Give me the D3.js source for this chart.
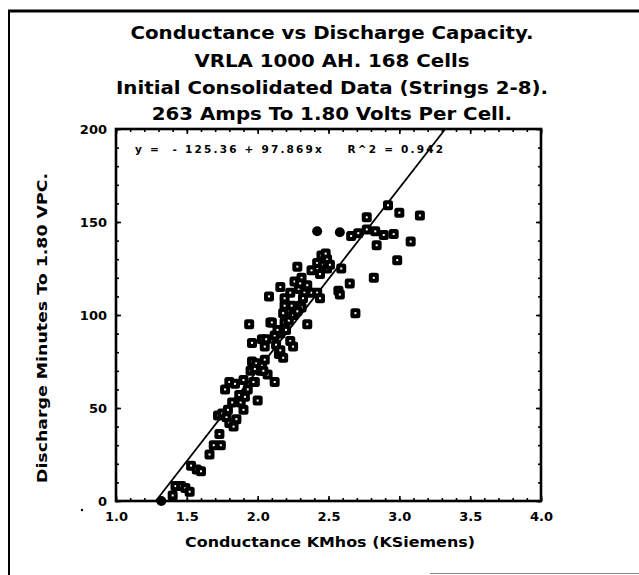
<!DOCTYPE html>
<html><head><meta charset="utf-8">
<script src="https://cdn.jsdelivr.net/npm/d3@7"></script>
<style>
body{margin:0;background:#fff}
svg{display:block}
text{font-family:"DejaVu Sans",Verdana,sans-serif;font-weight:bold;fill:#000}
</style>
</head><body>
<svg id="c" width="639" height="575"></svg>
<script>
// ---------- data ----------
const titleLines = [
  "Conductance vs Discharge Capacity.",
  "VRLA 1000 AH. 168 Cells",
  "Initial Consolidated Data (Strings 2-8).",
  "263 Amps To 1.80 Volts Per Cell."
];
const xAxisTitle = "Conductance KMhos (KSiemens)";
const yAxisTitle = "Discharge Minutes To 1.80 VPC.";
const equationText = "y =  - 125.36 + 97.869x    R^2 = 0.942";
const xTickValues = [1.0, 1.5, 2.0, 2.5, 3.0, 3.5, 4.0];
const yTickValues = [0, 50, 100, 150, 200];
const fitIntercept = -125.36;
const fitSlope = 97.869;

const conductance = [
 1.32,1.40,1.42,1.46,1.49,1.52,1.53,1.57,1.60,1.66,1.69,1.74,1.73,1.72,1.75,1.78,1.79,1.80,1.83,1.85,
 1.77,1.80,1.84,1.87,1.88,1.90,1.82,1.90,1.93,1.91,2.00,1.95,1.96,1.98,1.99,2.02,2.03,2.05,2.07,2.12,
 2.04,1.98,1.96,1.94,2.03,2.05,2.09,2.10,2.13,2.15,2.18,2.16,2.12,2.19,2.23,2.25,2.22,2.25,2.18,2.19,
 2.24,2.30,2.16,2.08,2.19,2.23,2.26,2.28,2.31,2.29,2.33,2.35,2.32,2.38,2.31,2.35,2.28,2.30,2.38,2.42,
 2.45,2.46,2.49,2.49,2.44,2.42,2.44,2.51,2.48,2.59,2.57,2.58,2.65,2.69,2.82,2.42,2.58,2.66,2.71,2.77,
 2.77,2.83,2.89,2.84,2.92,2.96,3.00,2.985,3.08,3.145,1.97,2.16,2.20,2.14,2.06
];
const minutes = [
 0,3,8,8,7,5,19,17,16,25,30,30,36,46,47,45,49,42,40,44,
 60,64,63,57,53,49,53,65,60,56,54,70,75,64,74,70,73,76,68,64,
 70,71,85,95,87,83,96,96,84,79,77,90,89,96,86,83,97,100,101,105,
 105,105,115,110,109,112,118,126,120,114,112,116,109,112,104,95,102,117,124,128,
 132,127,130,125,122,112,109,127,133,125,113,111,117,101,120,145,144.5,142.5,144,146,
 152.5,145,143,137.5,159,143.5,155,129.5,139.5,153.5,64,81,92,92,87
];
const markerKind = conductance.map((d,i) => (i===0 || i===95 || i===96) ? "dot" : "square");

// ---------- drawing ----------
const svg = d3.select("#c");
const x = d3.scaleLinear().domain([1, 4]).range([116, 541]);
const y = d3.scaleLinear().domain([0, 200]).range([501, 129]);

// outer scan border
svg.append("line").attr("x1",9).attr("x2",9).attr("y1",10).attr("y2",575).attr("stroke","#000").attr("stroke-width",2);
svg.append("line").attr("x1",8).attr("x2",639).attr("y1",11).attr("y2",11).attr("stroke","#000").attr("stroke-width",3);
svg.append("line").attr("x1",430).attr("x2",639).attr("y1",573.5).attr("y2",573.5).attr("stroke","#888").attr("stroke-width",1);
svg.append("circle").attr("cx",82).attr("cy",510).attr("r",1.2).attr("fill","#000");

// titles
const titleG = svg.append("g");
const titleBaselines = [39, 67, 94, 120];
const tnodes = titleLines.map((t,i) => titleG.append("text")
  .attr("x", 332).attr("y", titleBaselines[i]).attr("text-anchor","middle")
  .attr("font-size", 17).text(t));
const k = 403 / tnodes[0].node().getComputedTextLength();
tnodes.forEach(n => {
  const w = n.node().getComputedTextLength() * k;
  n.attr("textLength", w).attr("lengthAdjust","spacingAndGlyphs");
});

// axes: minor & major ticks inward on all four sides
const minorX = d3.range(10, 41).map(v => v/10);
const minorY = d3.range(0, 201, 10);
function addAxis(axisFn, scale, vals, size, transform, labels, pad) {
  const a = axisFn(scale).tickValues(vals).tickSizeInner(size).tickSizeOuter(0).tickPadding(pad || 3);
  if (!labels) a.tickFormat("");
  const g = svg.append("g").attr("transform", transform).call(a);
  g.select(".domain").remove();
  g.selectAll(".tick line").attr("stroke","#000").attr("stroke-width",1.6);
  return g;
}
addAxis(d3.axisBottom, x, minorX, -3, "translate(0,501)", false);
addAxis(d3.axisTop, x, minorX, -3, "translate(0,129)", false);
addAxis(d3.axisLeft, y, minorY, -3, "translate(116,0)", false);
addAxis(d3.axisRight, y, minorY, -3, "translate(541,0)", false);
const gxb = addAxis(d3.axisBottom, x, xTickValues, -5, "translate(0,501)", true, 10.5);
addAxis(d3.axisTop, x, xTickValues, -5, "translate(0,129)", false);
const gyl = addAxis(d3.axisLeft, y, yTickValues, -5, "translate(116,0)", true, 9);
addAxis(d3.axisRight, y, yTickValues, -5, "translate(541,0)", false);
gxb.selectAll("text").attr("font-size",13).attr("font-family","DejaVu Sans").attr("font-weight","bold");
gxb.call(g => g.selectAll(".tick text").text(d => d3.format(".1f")(d)));
gyl.selectAll("text").attr("font-size",13).attr("font-family","DejaVu Sans").attr("font-weight","bold");

// frame
svg.append("rect").attr("x", x(1)).attr("y", y(200)).attr("width", x(4)-x(1)).attr("height", y(0)-y(200))
  .attr("fill","none").attr("stroke","#000").attr("stroke-width",2.6);

// regression line
const xStart = (0 - fitIntercept) / fitSlope;
const xEnd = (200 - fitIntercept) / fitSlope;
svg.append("line")
  .attr("x1", x(xStart)).attr("y1", y(fitIntercept + fitSlope*xStart))
  .attr("x2", x(xEnd)).attr("y2", y(fitIntercept + fitSlope*xEnd))
  .attr("stroke","#000").attr("stroke-width",1.8);

// points
const pts = conductance.map((c,i) => ({c, m: minutes[i], kind: markerKind[i]}));
const pg = svg.append("g");
pts.forEach(p => {
  if (p.kind === "dot") {
    pg.append("circle").attr("cx", x(p.c)).attr("cy", y(p.m)).attr("r", 5).attr("fill","#000");
  } else {
    pg.append("rect").attr("x", x(p.c)-5).attr("y", y(p.m)-5).attr("width",10).attr("height",10)
      .attr("rx",2.5).attr("fill","#000");
    pg.append("rect").attr("x", x(p.c)-1).attr("y", y(p.m)-1).attr("width",2).attr("height",2)
      .attr("fill","#fff");
  }
});

// equation
const eq = svg.append("text").attr("x", 135).attr("y", 153).attr("font-size", 10.5)
  .style("white-space","pre").attr("xml:space","preserve").text(equationText);
eq.attr("textLength", 308).attr("lengthAdjust","spacing");

// axis titles
svg.append("text").attr("x", 330).attr("y", 547).attr("text-anchor","middle").attr("font-size",14)
  .attr("textLength",290).attr("lengthAdjust","spacingAndGlyphs").text(xAxisTitle);
svg.append("text").attr("transform","translate(47,328) rotate(-90)").attr("text-anchor","middle")
  .attr("font-size",14).attr("textLength",310).attr("lengthAdjust","spacingAndGlyphs").text(yAxisTitle);
</script>
</body></html>
